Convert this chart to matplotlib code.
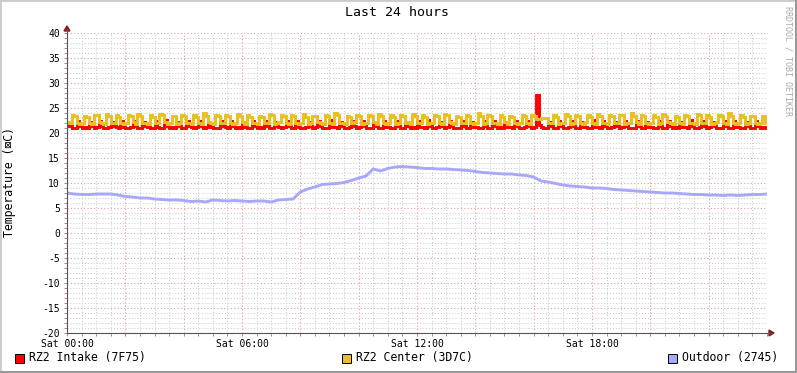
import matplotlib
matplotlib.use("Agg")
import matplotlib.pyplot as plt
from matplotlib.lines import Line2D
from matplotlib.patches import Rectangle, Polygon
import numpy as np

# 5-minute samples, 24 hours (rows of 9 = 45 minutes)
intake = [
    21.6, 21.5, 21.1, 21.0, 22.4, 21.5, 21.1, 21.2, 21.0,
    22.3, 21.4, 21.0, 21.2, 22.5, 21.5, 21.1, 21.0, 21.3,
    22.2, 21.5, 21.2, 21.0, 22.4, 21.3, 21.0, 21.1, 21.2,
    22.5, 21.4, 21.0, 21.1, 22.3, 21.5, 21.2, 21.0, 21.1,
    22.4, 21.3, 21.1, 21.0, 22.6, 21.4, 21.0, 21.2, 21.1,
    22.3, 21.5, 21.0, 21.1, 22.4, 21.5, 21.2, 21.0, 21.2,
    22.5, 21.4, 21.1, 21.2, 22.3, 21.3, 21.0, 21.0, 21.1,
    22.4, 21.5, 21.2, 21.0, 22.5, 21.4, 21.1, 21.2, 21.0,
    22.2, 21.3, 21.0, 21.1, 22.4, 21.5, 21.0, 21.2, 21.1,
    22.5, 21.4, 21.1, 21.0, 22.3, 21.4, 21.2, 21.0, 21.2,
    22.4, 21.5, 21.0, 21.1, 22.5, 21.3, 21.1, 21.0, 21.2,
    22.3, 21.4, 21.0, 21.2, 22.4, 21.5, 21.0, 21.1, 21.0,
    22.6, 21.3, 21.2, 21.0, 22.3, 21.5, 21.1, 21.0, 21.2,
    22.4, 21.4, 21.0, 21.2, 22.5, 21.4, 21.0, 21.1, 21.0,
    22.3, 21.5, 21.1, 21.0, 22.4, 21.3, 21.2, 21.0, 21.1,
    22.5, 21.4, 21.0, 21.1, 22.3, 21.4, 21.0, 21.2, 21.0,
    22.4, 21.3, 21.2, 21.0, 22.6, 21.5, 21.1, 21.0, 21.2,
    22.2, 21.4, 21.0, 21.2, 22.4, 21.4, 21.0, 21.1, 21.0,
    22.5, 21.5, 21.1, 21.0, 22.3, 21.3, 21.2, 21.0, 21.1,
    22.4, 21.4, 21.0, 21.1, 22.5, 21.4, 21.0, 21.2, 21.0,
    22.3, 21.3, 21.2, 21.0, 22.4, 21.5, 21.1, 21.0, 21.2,
    22.5, 21.4, 21.0, 21.2, 27.6, 21.6, 21.2, 21.0, 21.1,
    22.3, 21.5, 21.1, 21.0, 22.5, 21.4, 21.0, 21.1, 21.2,
    22.4, 21.4, 21.0, 21.1, 22.3, 21.3, 21.2, 21.0, 21.0,
    22.6, 21.3, 21.2, 21.0, 22.4, 21.5, 21.1, 21.0, 21.2,
    22.3, 21.4, 21.0, 21.2, 22.5, 21.4, 21.0, 21.1, 21.0,
    22.4, 21.5, 21.1, 21.0, 22.3, 21.3, 21.2, 21.0, 21.1,
    22.5, 21.4, 21.0, 21.1, 22.4, 21.4, 21.0, 21.2, 21.0,
    22.2, 21.3, 21.2, 21.0, 22.6, 21.5, 21.1, 21.0, 21.2,
    22.4, 21.4, 21.0, 21.2, 22.3, 21.4, 21.0, 21.1, 21.0,
    22.5, 21.5, 21.1, 21.0, 22.4, 21.3, 21.2, 21.0, 21.1,
    22.3, 21.4, 21.0, 21.1, 22.5, 21.4, 21.0, 21.2, 21.0,
]
center = [
    22.2, 22.0, 23.7, 23.5, 22.1, 21.9, 22.0, 23.5, 23.3,
    22.1, 21.9, 23.6, 23.6, 22.2, 22.0, 21.9, 23.8, 23.4,
    22.0, 22.1, 23.6, 23.3, 22.1, 21.9, 22.0, 23.7, 23.5,
    22.2, 21.9, 23.8, 23.5, 22.0, 22.1, 21.9, 23.6, 23.2,
    22.1, 22.0, 23.9, 23.6, 22.2, 21.9, 22.0, 23.5, 23.4,
    21.9, 22.1, 23.6, 23.5, 22.1, 22.0, 21.9, 23.7, 23.3,
    22.0, 21.9, 24.0, 23.5, 22.2, 22.1, 21.9, 23.6, 23.4,
    22.1, 22.0, 23.7, 23.4, 22.0, 21.9, 22.1, 23.8, 23.5,
    22.2, 21.9, 23.6, 23.3, 22.1, 22.0, 21.9, 23.5, 23.2,
    22.0, 22.1, 23.9, 23.6, 21.9, 22.0, 22.2, 23.6, 23.5,
    22.1, 21.9, 23.7, 23.4, 22.1, 21.9, 22.0, 23.8, 23.3,
    21.9, 22.0, 23.5, 23.5, 22.2, 22.0, 21.9, 23.7, 23.4,
    22.1, 21.9, 24.0, 23.6, 22.0, 22.1, 21.9, 23.4, 23.2,
    22.0, 22.2, 23.6, 23.4, 21.9, 22.0, 22.1, 23.7, 23.5,
    22.2, 21.9, 23.8, 23.5, 22.1, 21.9, 22.0, 23.6, 23.3,
    21.9, 22.1, 23.7, 23.4, 22.0, 22.2, 21.9, 23.9, 23.5,
    22.1, 22.0, 23.6, 23.3, 21.9, 22.1, 22.0, 23.7, 23.4,
    22.0, 21.9, 23.8, 23.6, 22.2, 22.0, 21.9, 23.5, 23.3,
    22.1, 22.1, 23.6, 23.4, 22.0, 21.9, 22.1, 24.0, 23.5,
    21.9, 22.0, 23.7, 23.5, 22.1, 22.0, 21.9, 23.6, 23.2,
    22.2, 21.9, 23.5, 23.3, 22.1, 21.9, 22.0, 23.7, 23.4,
    22.0, 21.9, 23.7, 23.5, 22.8, 22.9, 23.0, 23.1, 23.0,
    22.1, 22.0, 23.6, 23.3, 21.9, 22.1, 22.0, 23.8, 23.5,
    21.9, 22.1, 23.7, 23.4, 22.0, 21.9, 22.2, 23.6, 23.3,
    22.1, 21.9, 23.9, 23.5, 22.1, 22.0, 21.9, 23.7, 23.4,
    22.0, 22.0, 23.6, 23.6, 21.9, 22.1, 22.0, 24.1, 23.5,
    22.2, 21.9, 23.7, 23.4, 22.0, 21.9, 22.1, 23.6, 23.3,
    21.9, 22.1, 23.8, 23.5, 22.2, 22.0, 21.9, 23.5, 23.2,
    22.1, 21.9, 23.6, 23.4, 22.0, 22.1, 21.9, 23.9, 23.6,
    22.0, 22.0, 23.7, 23.3, 21.9, 22.0, 22.2, 23.6, 23.4,
    22.1, 21.9, 24.0, 23.5, 22.1, 21.9, 22.0, 23.7, 23.3,
    21.9, 22.1, 23.5, 23.5, 22.0, 21.9, 22.1, 23.4, 22.1,
]
# 15-minute samples
outdoor = [
    8.0, 7.8, 7.7, 7.7, 7.8, 7.8, 7.8, 7.6, 7.3, 7.2, 7.0, 7.0,
    6.8, 6.7, 6.6, 6.6, 6.5, 6.3, 6.4, 6.2, 6.6, 6.5, 6.4, 6.5,
    6.4, 6.3, 6.4, 6.4, 6.2, 6.6, 6.7, 6.8, 8.2, 8.8, 9.2, 9.7,
    9.8, 9.9, 10.1, 10.5, 11.0, 11.4, 12.8, 12.4, 12.9, 13.2, 13.3, 13.2,
    13.1, 12.9, 12.9, 12.8, 12.8, 12.7, 12.6, 12.5, 12.3, 12.1, 12.0, 11.9,
    11.8, 11.8, 11.6, 11.5, 11.2, 10.4, 10.2, 9.9, 9.6, 9.4, 9.3, 9.2,
    9.0, 9.0, 8.9, 8.7, 8.6, 8.5, 8.4, 8.3, 8.2, 8.1, 8.0, 8.0,
    7.9, 7.8, 7.7, 7.7, 7.6, 7.6, 7.5, 7.6, 7.5, 7.6, 7.7, 7.7,
    7.8,
]
xticks = [0, 6, 12, 18]
xlabels = ["Sat 00:00", "Sat 06:00", "Sat 12:00", "Sat 18:00"]
yticks = list(range(-20, 45, 5))
legend = [("RZ2 Intake (7F75)", "#FF0000"),
          ("RZ2 Center (3D7C)", "#E8C020"),
          ("Outdoor (2745)", "#A8A8F8")]

W, H = 797, 373
fig = plt.figure(figsize=(W / 100, H / 100), dpi=100)
fig.patch.set_facecolor("white")


def fx(px):
    return px / W


def fy(py):
    return 1 - py / H


ax = fig.add_axes([fx(67), fy(333), 700 / W, 300 / H])
ax.set_xlim(0, 24)
ax.set_ylim(-20, 40)
for s in ax.spines.values():
    s.set_visible(False)

# grid
ax.set_xticks(np.arange(0, 24.01, 0.5), minor=True)
ax.set_yticks(np.arange(-20, 40.01, 1), minor=True)
ax.set_xticks(np.arange(0, 24.01, 2))
ax.set_yticks(yticks)
ax.grid(which="minor", color="#C8C8C8", linestyle=(0, (1, 2)), linewidth=0.7)
ax.grid(which="major", color="#E0A0A0", linestyle=(0, (1, 2)), linewidth=0.8)
ax.set_axisbelow(True)
ax.tick_params(which="both", length=2, width=0.6, color="#B07070",
               labelsize=7, pad=3)
ax.set_yticklabels([str(v) for v in yticks], family="DejaVu Sans Mono")
ax.set_xticklabels([])

t5 = np.arange(len(intake)) * 5 / 60
t15 = np.arange(len(outdoor)) * 0.25
ax.plot(t5, intake, color=legend[0][1], lw=2.1, drawstyle="steps-post",
        solid_joinstyle="miter")
ax.plot(t5, center, color=legend[1][1], lw=2.1, drawstyle="steps-post",
        solid_joinstyle="miter")
ax.plot(t15, outdoor, color=legend[2][1], lw=2.1)

for h, lab in zip(xticks, xlabels):
    ax.text(h, -21.2, lab, ha="center", va="top", fontsize=7,
            family="DejaVu Sans Mono", transform=ax.transData, clip_on=False)

# axis lines and arrows
fig.add_artist(Line2D([fx(67), fx(771)], [fy(333), fy(333)],
                      color="#555555", lw=0.8))
fig.add_artist(Line2D([fx(67), fx(67)], [fy(333), fy(29)],
                      color="#555555", lw=0.8))
fig.add_artist(Polygon([[fx(769), fy(330)], [fx(774), fy(333)],
                        [fx(769), fy(336)]], closed=True, color="#8B1A1A"))
fig.add_artist(Polygon([[fx(64), fy(31)], [fx(67), fy(26)],
                        [fx(70), fy(31)]], closed=True, color="#8B1A1A"))

# texts
fig.text(fx(397), fy(13), "Last 24 hours", ha="center", va="center",
         fontsize=9.5, family="DejaVu Sans Mono")
fig.text(fx(10), fy(182), "Temperature (\u22a0C)", ha="center",
         va="center", rotation=90, fontsize=8.3, family="DejaVu Sans Mono")
fig.text(fx(788), fy(6), "RRDTOOL / TOBI OETIKER", ha="center", va="top",
         rotation=270, fontsize=6, color="#AAAAAA",
         family="DejaVu Sans Mono")

leg_x = [15, 342, 668]
for (lab, col), x0 in zip(legend, leg_x):
    fig.add_artist(Rectangle((fx(x0), fy(363)), 9 / W, 9 / H,
                             facecolor=col, edgecolor="black", lw=0.7))
    fig.text(fx(x0 + 14), fy(358), lab, ha="left", va="center",
             fontsize=8.3, family="DejaVu Sans Mono")

# frame shading
fig.add_artist(Rectangle((0, 0), 1, 1, fill=False, edgecolor="#CBCBCB",
                         lw=2))
fig.add_artist(Line2D([fx(796), fx(796)], [0, 1], color="#999999", lw=2.2))
fig.add_artist(Line2D([0, 1], [fy(372), fy(372)], color="#999999", lw=2.2))

fig.savefig("out.png", dpi=100)
